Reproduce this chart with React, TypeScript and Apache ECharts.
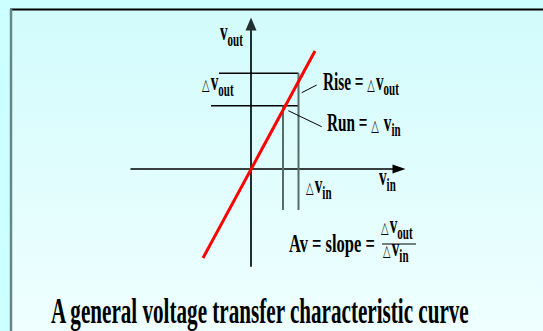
import React, { useEffect, useRef } from "react";
import * as echarts from "echarts";

// Data (in axis units)
const transferCurve: number[][] = [[-4.8, -8.9], [6.4, 11.8]];
const riseTopLine: number[][] = [[-3.2, 9.57], [4.75, 9.57]];
const runBottomLine: number[][] = [[-4.0, 6.33], [4.75, 6.33]];
const runLeftDrop: number[][] = [[3.2, 6.33], [3.2, -4.1]];
const riseRightDrop: number[][] = [[4.75, 9.57], [4.75, -4.1]];
const risePointer: number[][] = [[5.07, 7.63], [6.57, 8.4]];
const runPointer: number[][] = [[3.73, 5.83], [7.07, 4.23]];
const xRange = [-12, 14.8];
const yRange = [-9.7, 14.5];
const titleText = "A general voltage transfer characteristic curve";

const FONT = "Liberation Serif";

function richStyles(main: number, sub: number, tri: number) {
  const base = { fontFamily: FONT, color: "#000", verticalAlign: "top", fontWeight: "bold" };
  return {
    m: { ...base, fontSize: main, lineHeight: main },
    s: { ...base, fontSize: sub, lineHeight: sub, padding: [main * 0.45, 0, 0, 0] },
    d: { ...base, fontFamily: "DejaVu Sans", fontWeight: "normal", fontSize: tri, lineHeight: tri, padding: [main * 0.3, 2, 0, 0] },
  };
}

function label(x: number, y: number, text: string, sx = 0.61, main = 25, sub = 18, tri = 16) {
  return {
    type: "text",
    x,
    y,
    scaleX: sx,
    z: 10,
    style: {
      text,
      rich: richStyles(main, sub, tri),
      textAlign: "left",
      textVerticalAlign: "top",
    },
  };
}

function seg(data: number[][], color: string, width: number, z = 2) {
  return {
    type: "line",
    data,
    symbol: "none",
    silent: true,
    z,
    lineStyle: { color, width },
  };
}

export default function App() {
  const ref = useRef<HTMLDivElement>(null);
  useEffect(() => {
    if (!ref.current) return;
    const chart = echarts.init(ref.current, null, { renderer: "svg" });
    chart.setOption({
      animation: false,
      backgroundColor: "#ccffff",
      grid: { left: 131, top: 24, width: 268, height: 242 },
      xAxis: {
        type: "value",
        min: xRange[0],
        max: xRange[1],
        axisLine: { show: true, onZero: true, symbol: ["none", "triangle"], symbolSize: [9, 13], lineStyle: { color: "#000", width: 1.5 } },
        axisTick: { show: false },
        axisLabel: { show: false },
        splitLine: { show: false },
      },
      yAxis: {
        type: "value",
        min: yRange[0],
        max: yRange[1],
        axisLine: { show: true, onZero: true, symbol: ["none", "triangle"], symbolSize: [11, 13], lineStyle: { color: "#1f2f2f", width: 2 } },
        axisTick: { show: false },
        axisLabel: { show: false },
        splitLine: { show: false },
      },
      graphic: [
        {
          type: "rect",
          z: -10,
          shape: { x: 11, y: 9.5, width: 540, height: 330 },
          style: {
            fill: new echarts.graphic.LinearGradient(0, 0, 0, 1, [
              { offset: 0, color: "#d2fbfc" },
              { offset: 1, color: "#f0ffff" },
            ]),
          },
        },
        { type: "line", z: -5, shape: { x1: 10, y1: 9.5, x2: 543, y2: 9.5 }, style: { stroke: "#000", lineWidth: 2 } },
        { type: "line", z: -5, shape: { x1: 11, y1: 9, x2: 11, y2: 331 }, style: { stroke: "#6a8585", lineWidth: 2.5 } },
        label(220, 19.5, "{m|v}{s|out}"),
        label(202, 69.5, "{d|△}{m|v}{s|out}"),
        label(323, 68.8, "{m|Rise = }{d|△}{m|v}{s|out}"),
        label(327, 110, "{m|Run = }{d|△}{m| v}{s|in}"),
        label(379, 164.5, "{m|v}{s|in}"),
        label(306, 172.5, "{d|△}{m|v}{s|in}"),
        label(289, 231, "{m|Av = slope =}", 0.66),
        label(381, 212.5, "{d|△}{m|v}{s|out}"),
        { type: "line", z: 10, shape: { x1: 382, y1: 244, x2: 416, y2: 244 }, style: { stroke: "#000", lineWidth: 1 } },
        label(383, 235.5, "{d|△}{m|v}{s|in}"),
        {
          type: "text",
          x: 51,
          y: 292.5,
          scaleX: 0.587,
          z: 10,
          style: { text: titleText, fontFamily: FONT, fontWeight: "bold", fontSize: 36, fill: "#000", textAlign: "left", textVerticalAlign: "top" },
        },
      ],
      series: [
        seg(riseTopLine, "#000", 1.5),
        seg(runBottomLine, "#000", 1.5),
        seg(runLeftDrop, "#566b6b", 2),
        seg(riseRightDrop, "#566b6b", 2),
        seg(risePointer, "#000", 1),
        seg(runPointer, "#000", 1),
        seg(transferCurve, "#ff0000", 3, 5),
      ],
    });
    return () => chart.dispose();
  }, []);
  return <div ref={ref} style={{ position: "absolute", left: 0, top: 0, width: 543, height: 331 }} />;
}
